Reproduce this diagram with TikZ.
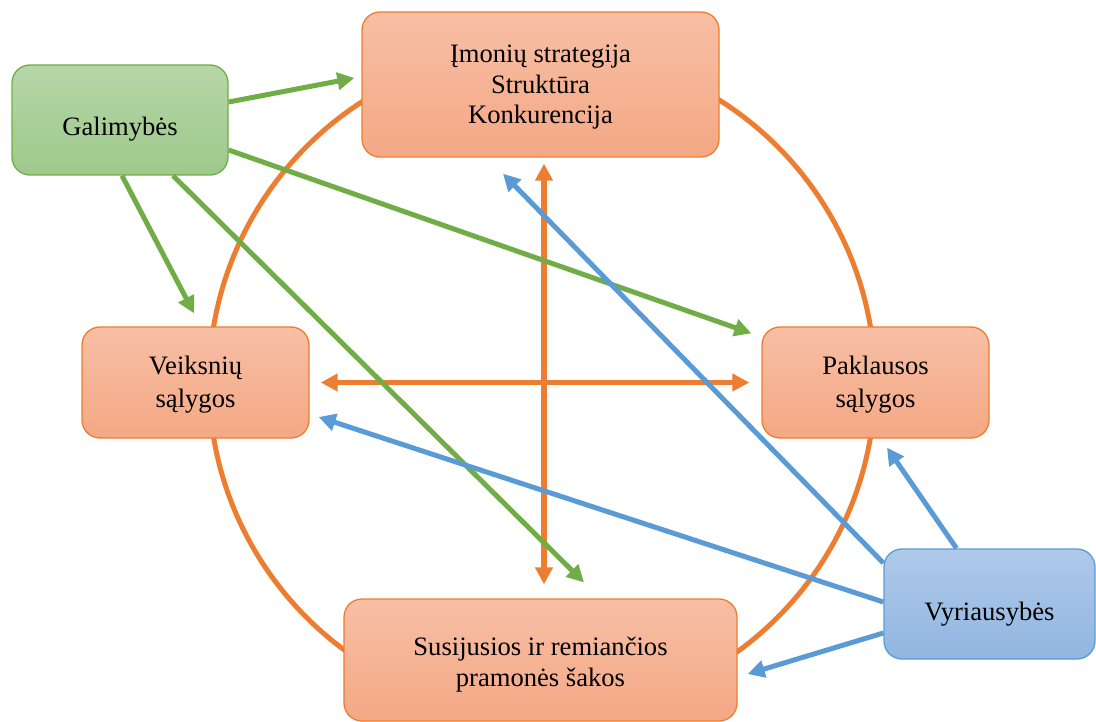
\documentclass[tikz,border=0pt]{standalone}
\usepackage{fontspec}
\setmainfont{Liberation Serif}
\usetikzlibrary{arrows.meta}
\definecolor{oline}{HTML}{ED7D31}
\definecolor{otop}{RGB}{247,191,165}
\definecolor{obot}{RGB}{244,168,133}
\definecolor{gline}{HTML}{70AD47}
\definecolor{gtop}{RGB}{182,214,168}
\definecolor{gbot}{RGB}{158,201,139}
\definecolor{bline}{HTML}{5B9BD5}
\definecolor{btop}{RGB}{175,201,233}
\definecolor{bbot}{RGB}{145,182,225}
% text block lowered by #1 inside its node, lines #2 apart
\newcommand{\boxtext}[3]{\fontsize{26.6pt}{#2}\selectfont\raisebox{-#1}[\height][\depth]{\begin{tabular}{@{}c@{}}#3\end{tabular}}}
\tikzset{
  box/.style={rectangle, rounded corners=18pt, line width=1.3pt,
    text=black, inner sep=0pt},
  obox/.style={box, draw=oline, top color=otop, bottom color=obot},
  gbox/.style={box, draw=gline, top color=gtop, bottom color=gbot},
  bbox/.style={box, draw=bline, top color=btop, bottom color=bbot},
  tip/.style={-{Triangle[length=17pt,width=17pt]}},
  dtip/.style={{Triangle[length=17pt,width=17pt]}-{Triangle[length=17pt,width=17pt]}},
  oarr/.style={dtip, draw=oline, fill=oline, line width=5.5pt},
  garr/.style={tip, draw=gline, fill=gline, line width=5pt},
  barr/.style={tip, draw=bline, fill=bline, line width=5pt},
}
\begin{document}
\begin{tikzpicture}[x=1pt,y=-1pt]
\useasboundingbox (0,0) rectangle (1096,722);
\draw[oline, line width=5pt] (542,382) circle[radius=333pt];

\node[obox, minimum width=357pt, minimum height=145pt] (top) at (540.5,84.5)
  {\boxtext{2.7pt}{30.5pt}{Įmonių strategija\\Struktūra\\Konkurencija}};
\node[gbox, minimum width=216pt, minimum height=110pt] (gal) at (120,120)
  {\boxtext{9pt}{30.5pt}{Galimybės}};
\node[obox, minimum width=227pt, minimum height=111pt] (vei) at (195.5,382.5)
  {\boxtext{1.6pt}{33pt}{Veiksnių\\sąlygos}};
\node[obox, minimum width=227pt, minimum height=111pt] (pak) at (875.5,382.5)
  {\boxtext{2.2pt}{33pt}{Paklausos\\sąlygos}};
\node[obox, minimum width=393pt, minimum height=122pt] (bot) at (540.5,660)
  {\boxtext{5pt}{31pt}{Susijusios ir remiančios\\pramonės šakos}};
\node[bbox, minimum width=211pt, minimum height=110pt] (vyr) at (989.5,604)
  {\boxtext{10pt}{30.5pt}{Vyriausybės}};

% orange double arrows
\draw[oarr] ([xshift=3.5pt,yshift=-6pt]top.south) -- ([xshift=3.5pt,yshift=14pt]bot.north);
\draw[oarr] ([xshift=11pt]vei.east) -- ([xshift=-12pt]pak.west);

% green arrows
\draw[garr] ([yshift=18pt]gal.east) -- ([xshift=-7pt,yshift=6.5pt]top.west);
\draw[garr] ([yshift=-30pt]gal.east) -- ([xshift=-10pt,yshift=-7pt]pak.north west);
\draw[garr] ([xshift=2pt]gal.south) -- ([xshift=-1.5pt,yshift=13pt]vei.north);
\draw[garr] ([xshift=53pt]gal.south) -- ([xshift=43.5pt,yshift=16pt]bot.north);

% blue arrows
\draw[barr] ([xshift=-33pt]vyr.north) -- ([xshift=11.5pt,yshift=-9pt]pak.south);
\draw[barr] ([yshift=41pt]vyr.west) -- ([xshift=-37.5pt,yshift=-16pt]top.south);
\draw[barr] ([yshift=2pt]vyr.west) -- ([xshift=9pt,yshift=-34.5pt]vei.east);
\draw[barr] ([yshift=-29pt]vyr.west) -- ([xshift=10pt,yshift=-14pt]bot.east);
\end{tikzpicture}
\end{document}
